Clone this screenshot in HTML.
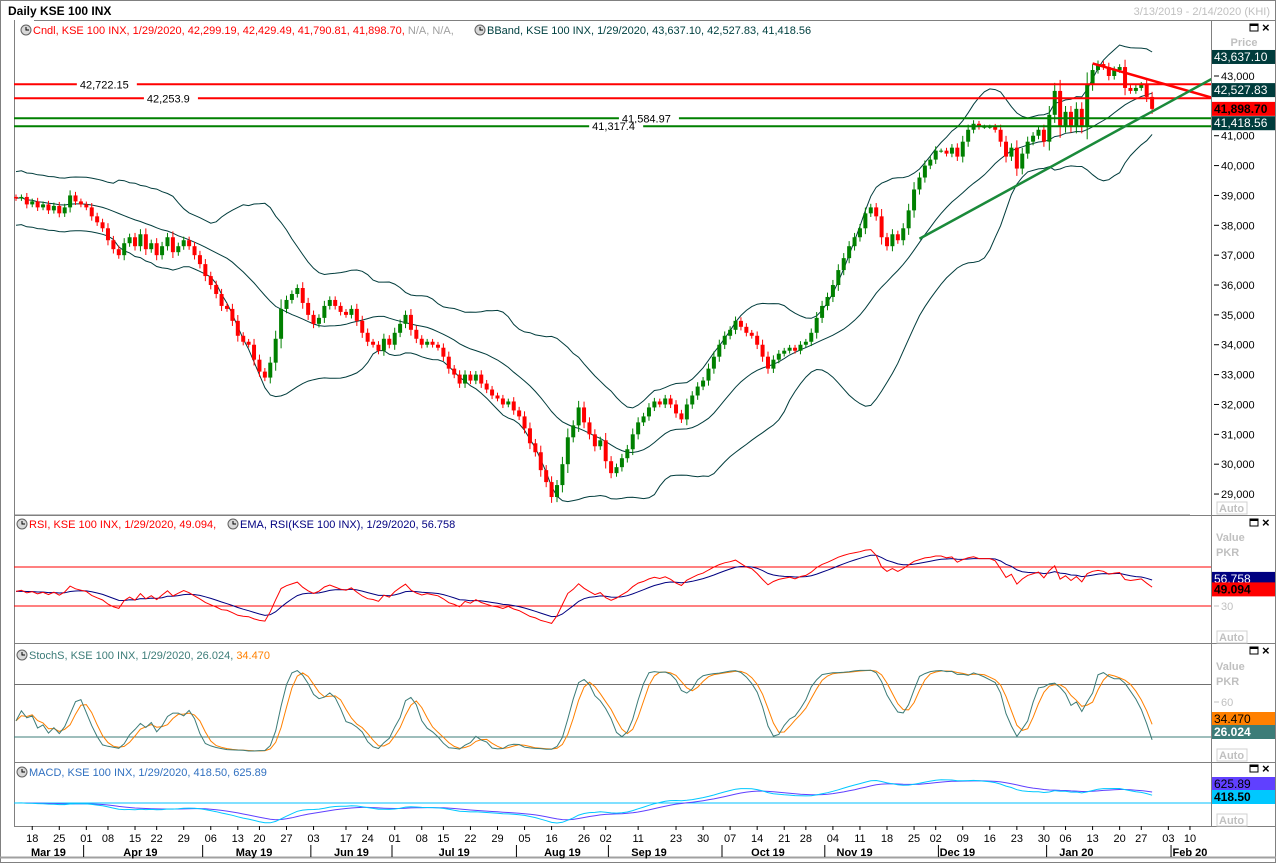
<!DOCTYPE html>
<html><head><meta charset="utf-8"><style>
body{margin:0;background:#fff;}
svg{display:block;font-family:"Liberation Sans",Tahoma,sans-serif;}
</style></head><body>
<svg id="c" width="1276" height="863" viewBox="0 0 1276 863" xmlns="http://www.w3.org/2000/svg"></svg>
<script>
const closes=[38900,38950,38700,38800,38600,38700,38500,38650,38400,38600,
39000,38800,38700,38600,38300,38100,37900,37500,37200,37000,
37400,37600,37300,37700,37200,37400,37000,37300,37600,37100,
37300,37500,37300,37000,36700,36300,36000,35700,35300,35200,
34800,34300,34100,34000,33500,33100,32900,33400,34200,35200,
35500,35700,35900,35400,35000,34700,34900,35300,35500,35300,
35100,35000,35200,34800,34400,34100,34000,33800,34200,34000,
34400,34700,35000,34500,34200,34000,34100,34000,33900,33600,
33200,33000,32700,33000,32800,33000,32700,32500,32300,32200,
32000,32100,31800,31600,31200,30700,30400,29800,29400,28900,
29300,30000,30900,31300,31900,31400,31000,30600,30800,30100,
29700,29900,30200,30500,31000,31400,31600,31900,32100,32000,
32200,32000,31700,31500,32000,32300,32600,32800,33200,33600,
34000,34300,34500,34800,34600,34400,34300,34000,33600,33200,
33500,33700,33800,33900,33800,34000,34100,34400,34900,35300,
35600,36000,36500,36900,37300,37600,37900,38400,38600,38300,
37600,37300,37700,37500,37900,38500,39200,39600,40000,40200,
40500,40500,40400,40600,40300,40800,41200,41400,41300,41300,
41300,41200,40800,40300,40600,39900,40400,40800,41000,41200,
40800,41700,42500,41300,41800,41300,41900,41300,42700,43200,
43400,43300,43000,43200,43300,42600,42500,42600,42700,42299.19,41898.70];
const priceTicks=[29000,30000,31000,32000,33000,34000,35000,36000,37000,38000,39000,40000,41000,43000];
const hLevels=[42722.15,42253.9,41584.97,41317.4];
const hLabels=["42,722.15","42,253.9","41,584.97","41,317.4"];
const hLabelIdx=[11.8,24.2,112,106.5];
const hColors=["#ff0000","#ff0000","#008000","#008000"];
const redTrendIdx=[199,221.5];const redTrendVal=[43420,42250];
const greenTrendIdx=[167,221.5];const greenTrendVal=[37550,42950];
const boxVals=[43637.10,42527.83,41898.70,41418.56];
const boxLabels=["43,637.10","42,527.83","41,898.70","41,418.56"];
const dayIdx=[3,8,13,17,22,26,31,36,41,45,50,55,61,65,70,75,79,84,89,94,99,105,109,115,122,127,132,137,142,146,151,156,161,166,170,175,180,185,190,194,199,204,208,213,217];
const dayLbl=["18","25","01","08","15","22","29","06","13","20","27","03","17","24","01","08","15","22","29","05","16","26","02","11","23","30","07","14","21","28","04","11","18","25","02","09","16","23","30","06","13","20","27","03","10"];
const monSep=[13,35,55,70,93,110,131,150,171,191,214];
const monIdx=[6,23,44,62,81,101,117,139,155,174,196,217];
const monLbl=["Mar 19","Apr 19","May 19","Jun 19","Jul 19","Aug 19","Sep 19","Oct 19","Nov 19","Dec 19","Jan 20","Feb 20"];

const S=document.getElementById('c');const NS="http://www.w3.org/2000/svg";
function el(t,a,p){const e=document.createElementNS(NS,t);for(const k in a)e.setAttribute(k,a[k]);(p||S).appendChild(e);return e;}
function tx(x,y,s,a,p){const e=el('text',Object.assign({x:x,y:y,'font-size':11},a||{}),p);e.textContent=s;return e;}
const L=14,R=1211;
const X=i=>16+i*5.41;
const Y=p=>76+(43000-p)*0.02986;
const yR=v=>606-(v-30)*0.975;
const yS=v=>737-(v-20)*0.875;
const yM=v=>803-v*0.017;
const n=closes.length;
const opens=closes.map((c,i)=>i?closes[i-1]:c+50);
opens[n-1]=42299.19;
const highs=closes.map((c,i)=>Math.max(c,opens[i])+Math.abs(c-opens[i])*0.25+70);
const lows=closes.map((c,i)=>Math.min(c,opens[i])-Math.abs(c-opens[i])*0.25-70);
const mid=[],up=[],lo=[];
for(let i=0;i<n;i++){const w=closes.slice(Math.max(0,i-19),i+1);const m=w.reduce((a,b)=>a+b,0)/w.length;const sd=Math.sqrt(w.reduce((a,b)=>a+(b-m)*(b-m),0)/w.length);mid.push(m);up.push(m+2*Math.max(sd,450));lo.push(m-2*Math.max(sd,450));}
const rsi=[45];let ag=150,al=180;
for(let i=1;i<n;i++){const d=closes[i]-closes[i-1];const g=Math.max(d,0),l=Math.max(-d,0);ag=(ag*13+g)/14;al=(al*13+l)/14;rsi.push(al===0?100:100-100/(1+ag/al));}
function ema(a,p){const k=2/(p+1);const o=[a[0]];for(let i=1;i<a.length;i++)o.push(a[i]*k+o[i-1]*(1-k));return o;}
function sma(a,p){return a.map((v,i)=>{const w=a.slice(Math.max(0,i-p+1),i+1);return w.reduce((x,y)=>x+y,0)/w.length;});}
const rsiE=ema(rsi,9);
const raw=closes.map((c,i)=>{const hh=Math.max(...highs.slice(Math.max(0,i-9),i+1));const ll=Math.min(...lows.slice(Math.max(0,i-9),i+1));return (c-ll)/(hh-ll)*100;});
const kS=sma(raw,3),dS=sma(kS,3);
const e12=ema(closes,12),e26=ema(closes,26);const macd=e12.map((v,i)=>v-e26[i]);const sig=ema(macd,9);
el('rect',{x:0,y:0,width:1276,height:863,fill:'#fff'});
const defs=el('defs',{});
[[20,495,'cm'],[516,127,'cr'],[644,118,'cs'],[763,63,'cmd']].forEach(a=>{const cp=el('clipPath',{id:a[2]},defs);el('rect',{x:L,y:a[0],width:R-L,height:a[1]},cp);});
el('rect',{x:0.5,y:0.5,width:1275,height:862,fill:'none',stroke:'#808080'});
tx(8,15,"Daily KSE 100 INX",{'font-weight':'bold','font-size':12,});
tx(1270,15,"3/13/2019 - 2/14/2020 (KHI)",{'text-anchor':'end',fill:'#c0c0c0',});
el('line',{x1:L+20,y1:20.5,x2:1276,y2:20.5,stroke:'#808080'});
el('line',{x1:L+0.5,y1:20,x2:L+0.5,y2:826,stroke:'#808080'});
el('line',{x1:R+0.5,y1:20,x2:R+0.5,y2:826,stroke:'#808080'});
[515,643,762,826].forEach(y=>el('line',{x1:L,y1:y+0.5,x2:1276,y2:y+0.5,stroke:'#808080'}));
el('line',{x1:0,y1:857.5,x2:1276,y2:857.5,stroke:'#a0a0a0','stroke-width':2});
function clock(x,y){const g=el('g',{});el('circle',{cx:x,cy:y,r:5,fill:'#d8d8d8',stroke:'#606060'},g);el('path',{d:`M${x} ${y-3}V${y}H${x+3}`,stroke:'#000',fill:'none'},g);}
clock(26,30);
const lg=el('text',{x:33,y:34,'font-size':11,});
[["Cndl, KSE 100 INX, 1/29/2020, 42,299.19, 42,429.49, 41,790.81, 41,898.70, ","#ff0000"],["N/A, N/A, ","#a0a0a0"]].forEach(s=>{const t=el('tspan',{fill:s[1]},lg);t.textContent=s[0];});
clock(480,30);
tx(487,34,"BBand, KSE 100 INX, 1/29/2020, 43,637.10, 42,527.83, 41,418.56",{fill:'#004040',});
tx(1244,46,"Price",{'text-anchor':'middle',fill:'#c0c0c0','font-weight':'bold',});
priceTicks.forEach(p=>{const y=Y(p);el('line',{x1:R+3,y1:y,x2:R+8,y2:y,stroke:'#000'});tx(R+10,y+4,p.toLocaleString('en-US'),{});});
const gm=el('g',{'clip-path':'url(#cm)',});
el('line',{x1:L,y1:515,x2:1190,y2:515,stroke:'#808080'},gm);
function poly(arr,yf,col,w,g,nm){const pts=arr.map((v,i)=>X(i).toFixed(1)+','+yf(v).toFixed(1)).join(' ');const e=el('polyline',{points:pts,fill:'none',stroke:col,'stroke-width':w||1},g);return e;}
poly(up,Y,'#003c3c',1,gm,'bband-upper');poly(mid,Y,'#003c3c',1,gm,'bband-middle');poly(lo,Y,'#003c3c',1,gm,'bband-lower');
for(let i=0;i<n;i++){const upc=closes[i]>=opens[i];const col=upc?'#008000':'#ff0000';const g=el('g',{},gm);
el('line',{x1:X(i),y1:Y(highs[i]),x2:X(i),y2:Y(lows[i]),stroke:col},g);
const t=Y(Math.max(closes[i],opens[i])),b=Y(Math.min(closes[i],opens[i]));el('rect',{x:X(i)-2,y:t,width:4,height:Math.max(1,b-t),fill:col},g);}
hLevels.forEach((v,k)=>{const y=Y(v);const ln=el('line',{x1:L,y1:y,x2:R,y2:y,stroke:hColors[k],'stroke-width':2},gm);
const bw=hLabels[k].length*6+6;el('rect',{x:X(hLabelIdx[k])-3,y:y-3,width:bw,height:6,fill:'#fff'},gm);tx(X(hLabelIdx[k]),y+4,hLabels[k],{},gm);});
const rt=el('line',{x1:X(redTrendIdx[0]),y1:Y(redTrendVal[0]),x2:X(redTrendIdx[1]),y2:Y(redTrendVal[1]),stroke:'#ff0000','stroke-width':2.5},gm);
const gt=el('line',{x1:X(greenTrendIdx[0]),y1:Y(greenTrendVal[0]),x2:X(greenTrendIdx[1]),y2:Y(greenTrendVal[1]),stroke:'#1a8a3a','stroke-width':2.5},gm);
const boxCol=['#003c3c','#003c3c','#ff0000','#003c3c'];const boxTxt=['#fff','#fff','#000','#fff'];
function vbox(y,s,bg,fg,bold,nm){const g=el('g',{});el('rect',{x:R+1,y:y-7,width:63,height:14,fill:bg},g);tx(R+3,y+4,s,{fill:fg,'font-weight':bold?'bold':'normal','font-size':12},g);}
boxVals.forEach((v,k)=>vbox(Y(v),boxLabels[k],boxCol[k],boxTxt[k],k==2,'price-value-box'));
function auto(y){const g=el('g',{});el('rect',{x:1217,y:y,width:30,height:12,fill:'#fff',stroke:'#d0d0d0'},g);tx(1219,y+10,"Auto",{fill:'#c0c0c0','font-weight':'bold'},g);}
auto(502);auto(631);auto(749);auto(814);
function icons(y){const g=el('g',{});el('rect',{x:1250,y:y-4,width:8,height:7,fill:'none',stroke:'#000'},g);el('line',{x1:1250,y1:y-3,x2:1258,y2:y-3,stroke:'#000','stroke-width':2},g);tx(1262,y+4,"×",{'font-size':13,'font-weight':'bold'},g);}
icons(523);icons(651);icons(769);icons(28);
clock(22,524);
const rl=el('text',{x:29,y:528,'font-size':11,});
[["RSI, KSE 100 INX, 1/29/2020, 49.094, ","#ff0000"]].forEach(s=>{const t=el('tspan',{fill:s[1]},rl);t.textContent=s[0];});
clock(233,524);tx(240,528,"EMA, RSI(KSE 100 INX), 1/29/2020, 56.758",{fill:'#000080',});
tx(1216,541,"Value",{fill:'#c0c0c0','font-weight':'bold'});tx(1216,556,"PKR",{fill:'#c0c0c0','font-weight':'bold'});
const gr=el('g',{'clip-path':'url(#cr)',});
[70,30].forEach(v=>el('line',{x1:L,y1:yR(v),x2:R,y2:yR(v),stroke:'#ff0000'},gr));
el('line',{x1:R+3,y1:yR(30),x2:R+8,y2:yR(30),stroke:'#c0c0c0'});tx(R+10,yR(30)+4,"30",{fill:'#c0c0c0'});
poly(rsiE,yR,'#000080',1,gr,'rsi-ema-line');poly(rsi,yR,'#ff0000',1,gr,'rsi-line');
vbox(yR(56.758)-1,"56.758",'#000080','#fff',false,'ema-value-box');vbox(yR(49.094)+2,"49.094",'#ff0000','#000',true,'rsi-value-box');
clock(22,655);
const sl=el('text',{x:29,y:659,'font-size':11,});
[["StochS, KSE 100 INX, 1/29/2020, 26.024, ","#3c7c78"],["34.470","#ff8000"]].forEach(s=>{const t=el('tspan',{fill:s[1]},sl);t.textContent=s[0];});
tx(1216,670,"Value",{fill:'#c0c0c0','font-weight':'bold'});tx(1216,685,"PKR",{fill:'#c0c0c0','font-weight':'bold'});
const gs=el('g',{'clip-path':'url(#cs)',});
el('line',{x1:L,y1:yS(80),x2:R,y2:yS(80),stroke:'#707070'},gs);el('line',{x1:L,y1:yS(20),x2:R,y2:yS(20),stroke:'#3c7c78'},gs);
el('line',{x1:R+3,y1:yS(60),x2:R+8,y2:yS(60),stroke:'#c0c0c0'});tx(R+10,yS(60)+4,"60",{fill:'#c0c0c0'});
poly(dS,yS,'#ff8000',1,gs,'stoch-d-line');poly(kS,yS,'#3c7c78',1,gs,'stoch-k-line');
vbox(719,"34.470",'#ff8000','#000',false,'stoch-d-box');vbox(732,"26.024",'#3c7c78','#fff',true,'stoch-k-box');
clock(22,772);tx(29,776,"MACD, KSE 100 INX, 1/29/2020, 418.50, 625.89",{fill:'#3070c0',});
const gd=el('g',{'clip-path':'url(#cmd)',});
el('line',{x1:L,y1:yM(0),x2:R,y2:yM(0),stroke:'#00c0ff'},gd);
poly(sig,yM,'#6040ff',1,gd,'macd-signal-line');poly(macd,yM,'#00c8ff',1,gd,'macd-line');
vbox(784,"625.89",'#6040ff','#000',false,'macd-signal-box');vbox(797,"418.50",'#00c8ff','#000',true,'macd-value-box');
dayIdx.forEach((d,k)=>{el('line',{x1:X(d),y1:826,x2:X(d),y2:830,stroke:'#000'});const t=tx(X(d),842,dayLbl[k],{'text-anchor':'middle'});});
monSep.forEach(m=>el('line',{x1:X(m)-2.7,y1:845,x2:X(m)-2.7,y2:857,stroke:'#000'}));
monIdx.forEach((m,k)=>{const t=tx(X(m),856,monLbl[k],{'text-anchor':'middle','font-weight':'bold'});});
</script>
</body></html>
